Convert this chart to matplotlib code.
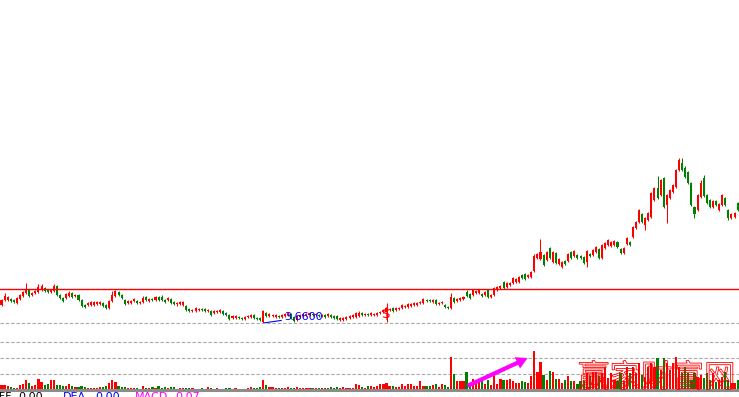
import matplotlib
matplotlib.use("Agg")
import matplotlib.pyplot as plt
import numpy as np
import matplotlib.transforms as mtransforms
from matplotlib.textpath import TextPath
from matplotlib.patches import PathPatch, FancyArrowPatch
from matplotlib.font_manager import FontProperties

plt.rcParams['font.family'] = ['DejaVu Sans']

# daily candles
opens = [
    3.84,3.89,3.89,3.90,3.89,3.86,3.90,3.93,3.96,3.99,
    3.94,3.96,3.97,3.99,4.01,3.99,3.97,3.98,4.03,3.94,
    3.91,3.91,3.93,3.96,3.93,3.94,3.89,3.84,3.84,3.84,
    3.84,3.85,3.85,3.86,3.84,3.81,3.88,3.93,3.97,3.94,
    3.89,3.86,3.86,3.88,3.88,3.86,3.87,3.92,3.88,3.90,
    3.89,3.92,3.92,3.89,3.89,3.90,3.87,3.85,3.85,3.84,
    3.83,3.80,3.78,3.78,3.79,3.80,3.80,3.78,3.78,3.76,
    3.77,3.77,3.78,3.76,3.74,3.71,3.71,3.72,3.71,3.70,
    3.72,3.72,3.74,3.71,3.71,3.67,3.76,3.73,3.73,3.72,
    3.73,3.72,3.73,3.74,3.75,3.72,3.69,3.72,3.73,3.74,
    3.74,3.75,3.74,3.74,3.73,3.74,3.73,3.74,3.73,3.73,
    3.69,3.69,3.70,3.71,3.72,3.72,3.73,3.76,3.74,3.75,
    3.74,3.74,3.74,3.76,3.77,3.77,3.79,3.81,3.79,3.80,
    3.81,3.82,3.82,3.83,3.84,3.84,3.86,3.86,3.89,3.89,
    3.87,3.89,3.85,3.86,3.84,3.82,3.81,3.91,3.88,3.89,
    3.90,3.97,3.95,3.94,3.96,3.96,3.95,3.94,3.99,3.92,
    3.94,3.99,4.01,4.07,4.02,4.04,4.06,4.07,4.07,4.14,
    4.15,4.12,4.12,4.18,4.31,4.30,4.34,4.29,4.41,4.27,
    4.36,4.25,4.22,4.28,4.28,4.37,4.33,4.34,4.33,4.32,
    4.27,4.35,4.34,4.37,4.40,4.31,4.41,4.44,4.43,4.44,
    4.47,4.40,4.36,4.45,4.47,4.52,4.61,4.67,4.75,4.64,
    4.69,4.72,4.89,5.01,4.94,5.11,4.84,4.91,4.97,5.02,
    5.19,5.26,5.21,5.17,5.06,4.82,4.79,4.92,5.11,4.94,
    4.89,4.82,4.88,4.79,4.84,4.91,4.79,4.71,4.72,4.86]
closes = [
    3.89,3.93,3.92,3.88,3.87,3.91,3.94,3.97,4.00,3.93,
    3.96,3.98,4.02,4.03,3.98,3.97,3.99,4.03,3.94,3.91,
    3.88,3.95,3.96,3.92,3.94,3.89,3.83,3.82,3.86,3.87,
    3.87,3.87,3.87,3.83,3.81,3.88,3.94,3.98,3.94,3.91,
    3.85,3.88,3.88,3.90,3.86,3.87,3.91,3.89,3.90,3.89,
    3.92,3.89,3.89,3.87,3.91,3.86,3.85,3.86,3.87,3.87,
    3.79,3.78,3.79,3.81,3.80,3.79,3.78,3.79,3.74,3.78,
    3.78,3.79,3.75,3.74,3.70,3.73,3.73,3.71,3.70,3.72,
    3.73,3.74,3.71,3.70,3.69,3.78,3.73,3.75,3.74,3.74,
    3.72,3.74,3.75,3.76,3.71,3.68,3.73,3.74,3.75,3.75,
    3.76,3.74,3.75,3.73,3.74,3.72,3.75,3.72,3.71,3.70,
    3.71,3.71,3.72,3.73,3.74,3.76,3.76,3.74,3.75,3.74,
    3.76,3.75,3.76,3.77,3.79,3.81,3.80,3.78,3.81,3.81,
    3.84,3.83,3.85,3.85,3.86,3.86,3.87,3.90,3.88,3.88,
    3.89,3.85,3.86,3.87,3.82,3.81,3.92,3.87,3.90,3.91,
    3.92,3.93,3.91,3.99,3.98,3.99,3.93,3.97,3.92,3.94,
    4.01,4.02,4.03,4.01,4.06,4.06,4.11,4.10,4.12,4.11,
    4.10,4.14,4.17,4.33,4.35,4.37,4.24,4.37,4.31,4.37,
    4.26,4.30,4.27,4.25,4.35,4.31,4.38,4.31,4.31,4.26,
    4.38,4.33,4.39,4.42,4.31,4.44,4.46,4.49,4.47,4.48,
    4.42,4.36,4.41,4.51,4.44,4.62,4.67,4.79,4.67,4.71,
    4.76,4.96,5.01,4.91,5.09,4.82,4.94,4.99,5.04,5.19,
    5.29,5.19,5.12,5.06,4.84,4.75,4.94,5.06,4.93,4.86,
    4.82,4.88,4.84,4.85,4.94,4.84,4.71,4.75,4.76,4.79]
highs = [
    3.90,3.96,3.93,3.91,3.90,3.92,3.95,3.98,4.06,4.00,
    3.97,3.99,4.05,4.05,4.02,4.00,4.00,4.05,4.04,3.95,
    3.92,3.96,3.98,3.97,3.95,3.95,3.90,3.85,3.87,3.88,
    3.88,3.88,3.88,3.87,3.85,3.89,3.98,3.99,3.98,3.95,
    3.90,3.89,3.89,3.91,3.89,3.88,3.93,3.93,3.91,3.91,
    3.93,3.93,3.94,3.90,3.92,3.91,3.88,3.87,3.88,3.88,
    3.84,3.81,3.80,3.82,3.81,3.81,3.81,3.80,3.79,3.79,
    3.79,3.80,3.79,3.77,3.75,3.74,3.74,3.73,3.72,3.73,
    3.74,3.75,3.75,3.72,3.72,3.79,3.77,3.76,3.75,3.75,
    3.74,3.75,3.76,3.77,3.76,3.73,3.74,3.75,3.76,3.76,
    3.77,3.76,3.76,3.75,3.75,3.75,3.76,3.75,3.74,3.74,
    3.72,3.72,3.73,3.74,3.75,3.77,3.78,3.77,3.76,3.76,
    3.77,3.76,3.77,3.78,3.80,3.86,3.81,3.82,3.82,3.82,
    3.85,3.84,3.86,3.86,3.87,3.87,3.88,3.91,3.90,3.90,
    3.90,3.90,3.87,3.88,3.85,3.83,3.96,3.92,3.91,3.92,
    3.93,3.99,3.96,4.00,3.99,4.00,3.96,3.98,4.00,3.95,
    4.02,4.03,4.04,4.08,4.07,4.07,4.12,4.11,4.13,4.15,
    4.16,4.15,4.18,4.35,4.36,4.50,4.35,4.38,4.42,4.38,
    4.37,4.31,4.28,4.29,4.36,4.38,4.39,4.35,4.34,4.33,
    4.39,4.36,4.40,4.43,4.41,4.45,4.47,4.50,4.48,4.49,
    4.48,4.41,4.42,4.52,4.48,4.63,4.68,4.80,4.76,4.72,
    4.77,4.97,5.02,5.13,5.10,5.12,4.95,5.00,5.05,5.20,
    5.31,5.31,5.23,5.18,5.07,4.83,4.95,5.09,5.14,4.95,
    4.90,4.89,4.89,4.86,4.95,4.92,4.80,4.76,4.77,4.87]
lows = [
    3.83,3.88,3.88,3.87,3.86,3.85,3.89,3.92,3.95,3.92,
    3.93,3.95,3.96,3.98,3.97,3.96,3.96,3.97,3.93,3.90,
    3.87,3.90,3.92,3.91,3.92,3.88,3.82,3.81,3.83,3.83,
    3.83,3.84,3.84,3.82,3.80,3.80,3.87,3.92,3.93,3.90,
    3.84,3.85,3.85,3.87,3.85,3.85,3.86,3.88,3.87,3.88,
    3.88,3.88,3.88,3.86,3.88,3.85,3.84,3.83,3.84,3.83,
    3.78,3.77,3.77,3.77,3.78,3.78,3.77,3.77,3.73,3.75,
    3.76,3.76,3.74,3.73,3.69,3.70,3.70,3.70,3.69,3.69,
    3.71,3.71,3.70,3.69,3.68,3.66,3.72,3.72,3.72,3.71,
    3.71,3.71,3.72,3.73,3.70,3.67,3.68,3.71,3.72,3.73,
    3.73,3.73,3.73,3.72,3.72,3.71,3.72,3.71,3.70,3.69,
    3.68,3.68,3.69,3.70,3.71,3.71,3.72,3.73,3.73,3.73,
    3.73,3.73,3.73,3.75,3.76,3.67,3.78,3.77,3.78,3.79,
    3.80,3.81,3.81,3.82,3.83,3.83,3.85,3.85,3.87,3.87,
    3.86,3.84,3.84,3.85,3.81,3.80,3.80,3.86,3.87,3.88,
    3.89,3.92,3.90,3.93,3.95,3.95,3.92,3.93,3.91,3.91,
    3.93,3.98,4.00,4.00,4.01,4.03,4.05,4.06,4.06,4.10,
    4.09,4.11,4.11,4.17,4.30,4.29,4.23,4.28,4.30,4.26,
    4.25,4.24,4.21,4.24,4.27,4.30,4.32,4.30,4.30,4.25,
    4.22,4.32,4.33,4.36,4.30,4.30,4.40,4.43,4.42,4.43,
    4.41,4.35,4.35,4.44,4.43,4.51,4.60,4.66,4.66,4.59,
    4.68,4.71,4.88,4.90,4.93,4.81,4.66,4.90,4.96,5.01,
    5.18,5.18,5.11,5.05,4.83,4.71,4.78,4.91,4.92,4.85,
    4.81,4.81,4.83,4.78,4.83,4.83,4.69,4.70,4.71,4.78]
volumes = [
    5,5,4,3.3,2.3,2.3,5,6,10,7.3,
    4,5,11,8,5,6,10,10,5,5,
    4,4,6,4,3,3,4,3,2,2,
    2,2,3,3,4,7,10,8,4,3,
    3,2,2,2,2,1,4,2,2,3,
    2,4,2,3,2,3,3,1,2,2,
    2,2,2,1,1,2,1,3,2,1,
    2,1,1,2,2,1,2,1,1,1,
    2,3,2,2,3,10,5,3,3,2,
    2,2,2,3,2,2,3,2,2,2,
    2,2,2,2,2,2,2,3,2,3,
    2,3,2,2,2,6,5,3,2,4,
    4,3,4,6,6,7,4,4,3,3,
    6,4,6,6,4,4,9,4,4,4,
    5,6,3,6,5,3,33,16,9,9,
    9,18,6,11,8,8,10,6,10,5,
    15,6,11,10,10,11,9,7,7,9,
    8,7,14,39,18,28,15,10,19,18,
    11,11,7,10,14,9,9,6,9,9,
    17,14,18,18,14,17,23,12,17,10,
    9,17,9,23,17,23,17,27,15,13,
    23,27,23,32,20,32,27,20,27,33,
    23,17,23,17,10,17,13,15,12,17,
    10,17,8,10,13,18,10,7,7,10]

ref_price = 4.00          # red horizontal line
low_idx = 85              # candle marked with the low
low_label = "3.6600"
ex_idx = 125              # ex-right marker
vol_levels = [16, 32, 48, 67]
watermark = "赢家财富网"
macd_texts = ["DIFF", "0.00", "DEA", "0.00", "MACD", "0.07"]

RED = "#ff0000"
GREEN = "#008000"

W, H = 739, 397
fig = plt.figure(figsize=(W / 100, H / 100), dpi=100)
fig.patch.set_facecolor("white")

ax_p = fig.add_axes([0, (H - 330) / H, 1, 330 / H])
ax_v = fig.add_axes([0, (H - 390) / H, 1, 67 / H])
for ax in (ax_p, ax_v):
    ax.set_facecolor("none")
    ax.axis("off")
    ax.set_xlim(-0.49, 239.45)
ax_p.set_ylim(3.59, 6.89)
ax_v.set_ylim(0, 67)

o = np.array(opens)
c = np.array(closes)
hi = np.array(highs)
lo = np.array(lows)
x = np.arange(len(o))
up = c >= o
colors = np.where(up, RED, GREEN)

# candles
ax_p.vlines(x, lo, hi, colors=colors, lw=0.75)
body_lo = np.minimum(o, c)
body_h = np.maximum(np.abs(c - o), 0.01)
ax_p.bar(x, body_h, bottom=body_lo, width=0.66, color=colors, linewidth=0)

ax_p.axhline(ref_price, color=RED, lw=1.0)

ax_p.annotate(low_label, xy=(low_idx, lo[low_idx]), xytext=(15, 4.3),
              textcoords="offset points", ha="left", va="center",
              color="#0000ff", fontsize=8,
              arrowprops=dict(arrowstyle="-", color="#0000ff", lw=0.8,
                              relpos=(0, 0.2), shrinkA=0, shrinkB=0))
ax_p.text(ex_idx, (hi[ex_idx] + lo[ex_idx]) / 2 - 0.01, "$", color=RED,
          fontsize=10, ha="center", va="center")

# volume
ax_v.bar(x, volumes, width=0.72, color=colors, linewidth=0)
for lv in vol_levels:
    ax_v.axhline(lv, color="#a8a8a8", lw=0.8, linestyle=(0, (3, 1.8)),
                 clip_on=False, zorder=0)
ax_v.axhline(0, color="#8c8c8c", lw=2.2, clip_on=False)

arr = FancyArrowPatch((150.5, 3), (171.6, 33),
                      arrowstyle="simple,head_length=0.8,head_width=0.9,tail_width=0.3",
                      mutation_scale=10, color="#ff00ff", lw=0)
ax_v.add_patch(arr)

# watermark, outline only
fp = FontProperties(family="Noto Sans CJK SC")
tp = TextPath((0, 0), watermark, size=1, prop=fp)
tr = mtransforms.Affine2D().scale(0.315).translate(5.78, 0.10) + fig.dpi_scale_trans
fig.add_artist(PathPatch(tp, transform=tr, facecolor="none",
                         edgecolor=RED, lw=0.6))

# MACD line, cut off at the bottom
y_txt = (H - 392.5) / H
fig.text(12 / W, y_txt, macd_texts[0], color="black", fontsize=8, ha="right", va="top")
fig.text(18 / W, y_txt, macd_texts[1], color="black", fontsize=8, ha="left", va="top")
fig.text(63 / W, y_txt, macd_texts[2], color="#0000ff", fontsize=8, ha="left", va="top")
fig.text(95 / W, y_txt, macd_texts[3], color="#0000ff", fontsize=8, ha="left", va="top")
fig.text(135 / W, y_txt, macd_texts[4], color="#ff00ff", fontsize=8, ha="left", va="top")
fig.text(175 / W, y_txt, macd_texts[5], color="#ff00ff", fontsize=8, ha="left", va="top")

fig.savefig("out.png", dpi=100, facecolor="white")
